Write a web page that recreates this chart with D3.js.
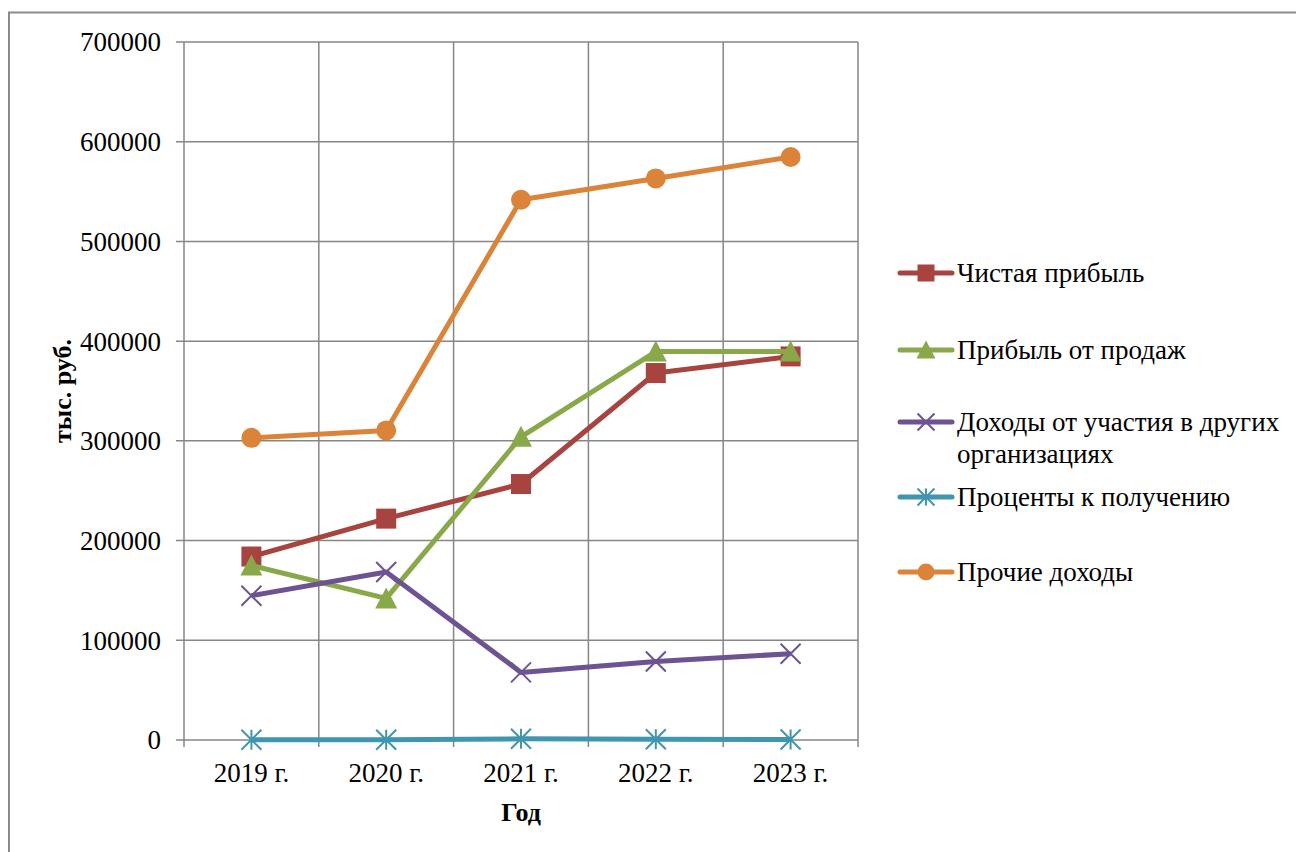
<!DOCTYPE html>
<html>
<head>
<meta charset="utf-8">
<script src="https://cdn.jsdelivr.net/npm/d3@7"></script>
<style>
  html, body { margin: 0; padding: 0; background: #fff; }
  svg { display: block; }
  text { fill: #000; }
</style>
</head>
<body>
<svg id="chart" width="1296" height="852"></svg>
<script>
// Годы (категории)
const years = ["2019 г.", "2020 г.", "2021 г.", "2022 г.", "2023 г."];

// Показатели, тыс. руб.
const netProfit      = [184000, 222000, 256700, 368000, 384700];
const salesProfit    = [175000, 142000, 304000, 389500, 389500];
const participation  = [144700, 168500, 67800, 78800, 86500];
const interest       = [200, 300, 1200, 800, 500];
const otherIncome    = [303000, 310500, 541800, 563200, 584700];

const seriesNames  = ["Чистая прибыль", "Прибыль от продаж", "Доходы от участия в других организациях", "Проценты к получению", "Прочие доходы"];
const seriesValues = [netProfit, salesProfit, participation, interest, otherIncome];
const seriesColors = ["#A8443F", "#88A84A", "#6D5391", "#3F96AE", "#DB8439"];
const seriesMarkers = ["square", "triangle", "x", "star", "circle"];

const yTicks = [0, 100000, 200000, 300000, 400000, 500000, 600000, 700000];

const FONT = "'Liberation Serif', 'Times New Roman', serif";
const FS = 27;

const svg = d3.select("#chart");
const W = 1296, H = 852;
const plot = { left: 184, top: 42, right: 858, bottom: 740 };

// Рамка области диаграммы
svg.append("rect")
  .attr("x", 9).attr("y", 12.5)
  .attr("width", W + 20).attr("height", H + 20)
  .attr("fill", "#fff").attr("stroke", "#8a8a8a").attr("stroke-width", 2);

const x = d3.scaleBand().domain(years).range([plot.left, plot.right]).padding(0);
const y = d3.scaleLinear().domain([0, 700000]).range([plot.bottom, plot.top]);

const gridColor = "#868686";

// Горизонтальная сетка
svg.append("g").selectAll("line").data(yTicks).join("line")
  .attr("x1", plot.left - 8).attr("x2", plot.right)
  .attr("y1", d => y(d)).attr("y2", d => y(d))
  .attr("stroke", gridColor).attr("stroke-width", 1.5);

// Вертикальная сетка по границам категорий
const bounds = years.map(d => x(d)).concat([plot.right]);
svg.append("g").selectAll("line").data(bounds).join("line")
  .attr("x1", d => d).attr("x2", d => d)
  .attr("y1", plot.top).attr("y2", plot.bottom + 7)
  .attr("stroke", gridColor).attr("stroke-width", 1.5);

// Подписи оси Y
svg.append("g").selectAll("text").data(yTicks).join("text")
  .attr("x", plot.left - 23).attr("y", d => y(d))
  .attr("dy", "0.35em").attr("text-anchor", "end")
  .attr("font-family", FONT).attr("font-size", FS).text(d => d3.format("d")(d));

// Подписи оси X
svg.append("g").selectAll("text").data(years).join("text")
  .attr("x", d => x(d) + x.bandwidth() / 2).attr("y", 782)
  .attr("text-anchor", "middle").attr("font-family", FONT).attr("font-size", FS).text(d => d);

// Заголовки осей
svg.append("text")
  .attr("transform", `translate(71,${(plot.top + plot.bottom) / 2}) rotate(-90)`)
  .attr("text-anchor", "middle").attr("font-family", FONT).attr("font-size", 26).attr("font-weight", "bold")
  .text("тыс. руб.");
svg.append("text")
  .attr("x", (plot.left + plot.right) / 2).attr("y", 821)
  .attr("text-anchor", "middle").attr("font-family", FONT).attr("font-size", 26).attr("font-weight", "bold")
  .text("Год");

// Маркеры
function drawMarker(g, type, cx, cy, color, s) {
  const h = s / 2;
  if (type === "square") {
    g.append("rect").attr("x", cx - h).attr("y", cy - h).attr("width", s).attr("height", s).attr("fill", color);
  } else if (type === "circle") {
    g.append("circle").attr("cx", cx).attr("cy", cy).attr("r", h).attr("fill", color);
  } else if (type === "triangle") {
    g.append("path").attr("d", `M${cx},${cy - h - 1}L${cx + h + 1},${cy + h}L${cx - h - 1},${cy + h}Z`).attr("fill", color);
  } else if (type === "x") {
    g.append("path").attr("d", `M${cx - h},${cy - h}L${cx + h},${cy + h}M${cx - h},${cy + h}L${cx + h},${cy - h}`)
      .attr("stroke", color).attr("stroke-width", 2).attr("fill", "none");
  } else if (type === "star") {
    g.append("path").attr("d", `M${cx - h},${cy - h}L${cx + h},${cy + h}M${cx - h},${cy + h}L${cx + h},${cy - h}M${cx},${cy - h}L${cx},${cy + h}`)
      .attr("stroke", color).attr("stroke-width", 2).attr("fill", "none");
  }
}

const line = d3.line().x((d, i) => x(years[i]) + x.bandwidth() / 2).y(d => y(d));

seriesValues.forEach((vals, si) => {
  const g = svg.append("g");
  g.append("path").datum(vals).attr("d", line)
    .attr("fill", "none").attr("stroke", seriesColors[si]).attr("stroke-width", 5)
    .attr("stroke-linejoin", "round");
  vals.forEach((v, i) => drawMarker(g, seriesMarkers[si], x(years[i]) + x.bandwidth() / 2, y(v), seriesColors[si], 20));
});

// Легенда
const legendRows = [
  { lines: ["Чистая прибыль"], y: 273 },
  { lines: ["Прибыль от продаж"], y: 350 },
  { lines: ["Доходы от участия в других", "организациях"], y: 422 },
  { lines: ["Проценты к получению"], y: 497 },
  { lines: ["Прочие доходы"], y: 572 }
];
legendRows.forEach((row, i) => {
  const g = svg.append("g");
  g.append("line").attr("x1", 900).attr("x2", 952).attr("y1", row.y).attr("y2", row.y)
    .attr("stroke", seriesColors[i]).attr("stroke-width", 5).attr("stroke-linecap", "round");
  drawMarker(g, seriesMarkers[i], 926, row.y, seriesColors[i], 17);
  row.lines.forEach((t, k) => {
    g.append("text").attr("x", 957).attr("y", row.y + k * 32).attr("dy", "0.35em")
      .attr("font-family", FONT).attr("font-size", FS).text(t);
  });
});
</script>
</body>
</html>
